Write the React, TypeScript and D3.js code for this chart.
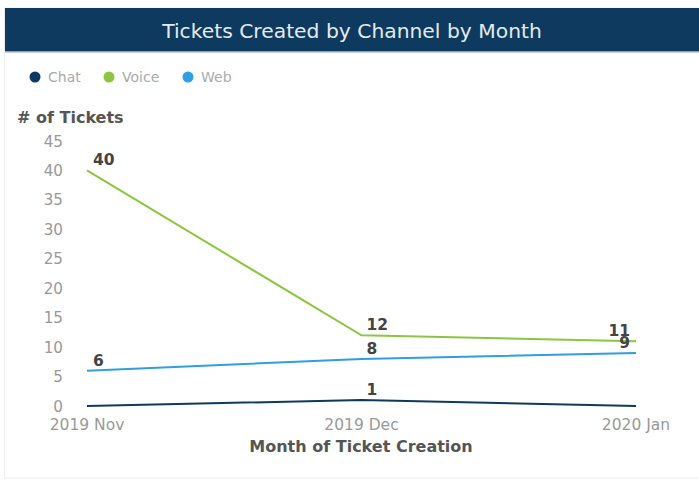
import React from "react";
import * as d3 from "d3";

const months = ["2019 Nov", "2019 Dec", "2020 Jan"];
const chat = [0, 1, 0];
const voice = [40, 12, 11];
const web = [6, 8, 9];
const yTicks = [0, 5, 10, 15, 20, 25, 30, 35, 40, 45];
const seriesNames = ["Chat", "Voice", "Web"];
const seriesColors = ["#0d3a5e", "#8cc63f", "#2f9fe0"];

const W = 699;
const H = 481;
const FONT = "DejaVu Sans, sans-serif";

export default function App() {
  const x = d3.scalePoint<string>().domain(months).range([87, 636]);
  const y = d3.scaleLinear().domain([0, 45]).range([406, 141]);
  const line = d3
    .line<number>()
    .x((_, i) => x(months[i]) as number)
    .y((d) => y(d));

  const series = [chat, voice, web];
  const legendX = [35, 109, 188];

  const labelPos = (i: number) => {
    if (i === 0) return { dx: 6, anchor: "start" };
    if (i === 1) return { dx: 5, anchor: "start" };
    return { dx: -6, anchor: "end" };
  };

  return (
    <svg
      width={W}
      height={H}
      style={{ position: "absolute", left: 0, top: 0, background: "#fff" }}
      fontFamily={FONT}
    >
      <rect x={4.5} y={8} width={W} height={470} fill="#fff" stroke="#ececec" />
      <rect x={5} y={8} width={W - 5} height={44} fill="#0d3a5e" />
      <rect x={5} y={51} width={W - 5} height={1.5} fill="#8aa3b8" />
      <text x={352} y={38} fill="#e4eaf0" fontSize={20.3} textAnchor="middle">
        Tickets Created by Channel by Month
      </text>

      {seriesNames.map((n, i) => (
        <g key={n}>
          <circle cx={legendX[i]} cy={77} r={5.5} fill={seriesColors[i]} />
          <text x={legendX[i] + 13} y={82} fontSize={14} fill="#aaa">
            {n}
          </text>
        </g>
      ))}

      <text x={17} y={123} fontSize={16} fontWeight="bold" fill="#555">
        # of Tickets
      </text>

      {yTicks.map((t) => (
        <text key={t} x={63} y={y(t) + 5.5} fontSize={15.2} fill="#999" textAnchor="end">
          {t}
        </text>
      ))}

      {months.map((m) => (
        <text key={m} x={x(m)} y={430} fontSize={15.5} fill="#999" textAnchor="middle">
          {m}
        </text>
      ))}

      <text x={361} y={452} fontSize={16} fontWeight="bold" fill="#555" textAnchor="middle">
        Month of Ticket Creation
      </text>

      {series.map((s, si) => (
        <path key={si} d={line(s) || ""} fill="none" stroke={seriesColors[si]} strokeWidth={2} />
      ))}

      {series.map((s, si) =>
        s.map((v, i) => {
          const p = labelPos(i);
          if (si === 0 && v === 0) return null;
          return (
            <text
              key={`${si}-${i}`}
              x={(x(months[i]) as number) + p.dx}
              y={y(v) - 5}
              fontSize={15.5}
              fontWeight="bold"
              fill="#444"
              textAnchor={p.anchor as any}
            >
              {v}
            </text>
          );
        })
      )}
    </svg>
  );
}
